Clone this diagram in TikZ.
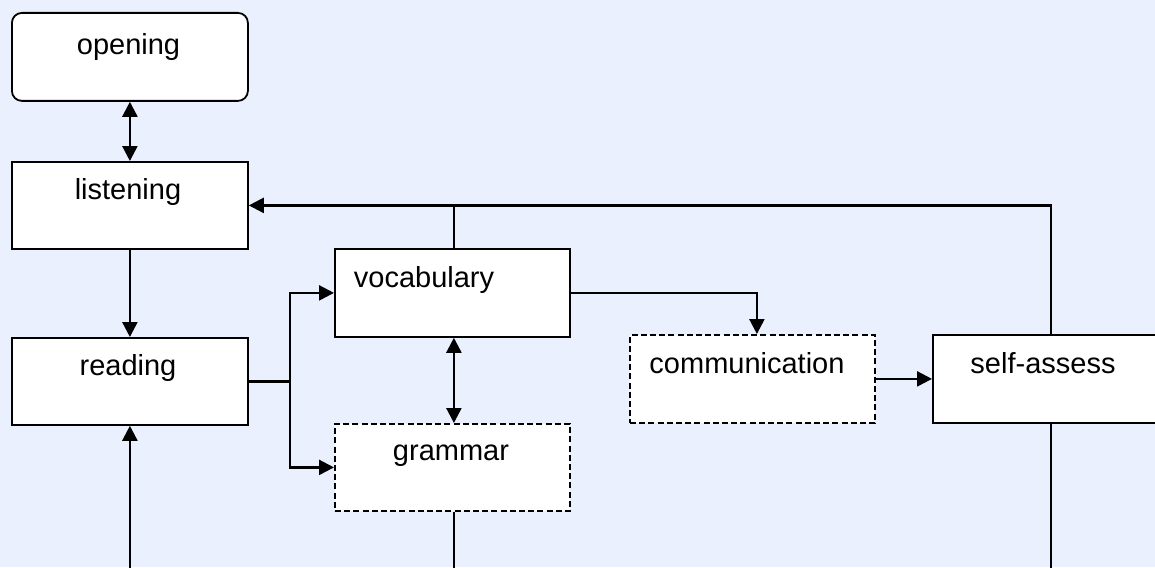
\documentclass[tikz,border=0pt]{standalone}
\usepackage{fontspec}
\setmainfont{Liberation Sans}
\usetikzlibrary{arrows.meta}
\definecolor{bg}{HTML}{EAF0FE}
\begin{document}
\begin{tikzpicture}[x=0.5pt,y=-0.5pt,
  box/.style={draw=black, fill=white, line width=0.9pt, inner sep=0pt, anchor=north west},
  dbox/.style={box, dash pattern=on 3pt off 1.6pt},
  txt/.style={anchor=base, inner sep=0pt, font=\fontsize{14.5}{17}\selectfont},
  conn/.style={line width=1.2pt},
  arr/.style={conn, -{Triangle[length=7.5pt,width=7.5pt]}},
  darr/.style={conn, {Triangle[length=7.5pt,width=7.5pt]}-{Triangle[length=7.5pt,width=7.5pt]}}]
\useasboundingbox (0,0) rectangle (1155,567);
\fill[bg] (0,0) rectangle (1155,567);
% boxes
\node[box, rounded corners=5pt, minimum width=118pt, minimum height=44pt] (opening) at (11,12) {};
\node[box, minimum width=118pt, minimum height=43.5pt] (listening) at (11,161) {};
\node[box, minimum width=118pt, minimum height=43.5pt] (reading) at (11,337) {};
\node[box, minimum width=117.5pt, minimum height=44pt] (vocabulary) at (334,248) {};
\node[dbox, minimum width=117.5pt, minimum height=43.5pt] (grammar) at (334,423) {};
\node[dbox, minimum width=122.5pt, minimum height=44pt] (communication) at (629,334) {};
\node[box, minimum width=112pt, minimum height=44pt] (selfassess) at (932,334) {};
% texts
\node[txt] (openingT) at (128.5,55) {opening};
\node[txt] (listeningT) at (128,199) {listening};
\node[txt] (readingT) at (128,375) {reading};
\node[txt] (vocabularyT) at (424,287) {vocabulary};
\node[txt] (grammarT) at (451,460) {grammar};
\node[txt] (communicationT) at (747,373) {communication};
\node[txt] (selfassessT) at (1043,373) {self-assess};
% free ends at the bottom edge
\coordinate (bottom) at (0,575);
\coordinate (branch) at (290,380.5);
% connectors
\draw[darr] (opening.south) -- (listening.north);
\draw[arr] (listening.south) -- (reading.north);
\draw[arr] (reading.south |- bottom) -- (reading.south);
\draw[arr] ([xshift=3pt]selfassess.north) |- (listening.east);
\draw[conn] ([xshift=0.75pt]vocabulary.north) -- ([xshift=0.75pt]vocabulary.north |- listening.east);
\draw[conn] (reading.east) -- (reading.east -| branch);
\draw[arr] (reading.east -| branch) |- (vocabulary.west);
\draw[arr] (reading.east -| branch) |- (grammar.west);
\draw[darr] ([xshift=0.75pt]vocabulary.south) -- ([xshift=0.75pt]grammar.north);
\draw[arr] (vocabulary.east) -| ([xshift=2.25pt]communication.north);
\draw[arr] (communication.east) -- (selfassess.west);
\draw[conn] ([xshift=0.75pt]grammar.south) -- ([xshift=0.75pt]grammar.south |- bottom);
\draw[conn] ([xshift=3pt]selfassess.south) -- ([xshift=3pt]selfassess.south |- bottom);
\end{tikzpicture}
\end{document}
